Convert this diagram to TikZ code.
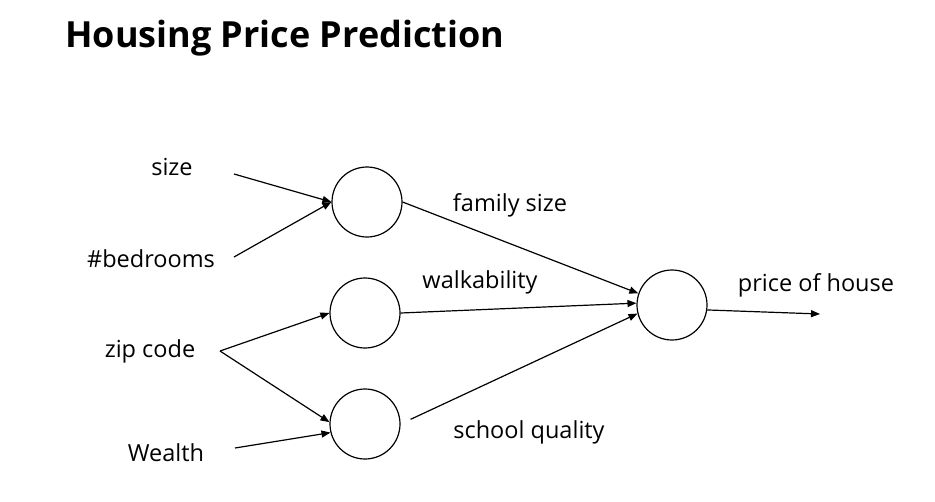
\documentclass[tikz,border=0pt]{standalone}
\usepackage{fontspec}
\setmainfont{Open Sans}
\usepackage{tikz}
\usetikzlibrary{arrows.meta, positioning}
\tikzstyle{unit} = [circle, draw=black, line width=1.2pt, minimum size=70pt, inner sep=0pt]
\tikzstyle{lbl} = [anchor=base, inner sep=0pt, font=\fontsize{23.5}{28}\selectfont]
\tikzstyle{arrow} = [line width=1.2pt, -{Triangle[length=9pt,width=7pt]}]

\begin{document}
\begin{tikzpicture}[x=1pt, y=-1pt]
  \useasboundingbox (0,0) rectangle (935,501);
  \node[anchor=base west, inner sep=0pt, font=\fontsize{36}{42}\selectfont\bfseries] (title) at (65,47) {Housing Price Prediction};

  \node[unit] (fam) at (367,202) {};
  \node[unit] (walk) at (365,313) {};
  \node[unit] (school) at (365,424) {};
  \node[unit] (price) at (672,305) {};

  \node[lbl] (size) at (172,175) {size};
  \node[lbl] (bed) at (151,267) {\#bedrooms};
  \node[lbl] (zip) at (150,357) {zip code};
  \node[lbl] (wealth) at (166,461) {Wealth};
  \node[lbl] (famlbl) at (510,211) {family size};
  \node[lbl] (walklbl) at (480,288) {walkability};
  \node[lbl] (schoollbl) at (529,438) {school quality};
  \node[lbl] (pricelbl) at (816,291) {price of house};

  \coordinate (sizeout) at (234,174);
  \coordinate (bedout) at (234,257);
  \coordinate (zipout) at (220,351);
  \coordinate (wealthout) at (235,448);
  \coordinate (priceout) at (820,314);

  \draw[arrow] (sizeout) -- (fam.west);
  \draw[arrow] (bedout) -- (fam.west);
  \draw[arrow] (zipout) -- (walk.west);
  \draw[arrow] (zipout) -- (school.177);
  \draw[arrow] (wealthout) -- (school.194);
  \draw[arrow] (fam.east) -- (price.161);
  \draw[arrow] (walk.east) -- (price.177);
  \draw[arrow, shorten <=11pt] (school.east) -- (price.194);
  \draw[arrow] (price.-8) -- (priceout);
\end{tikzpicture}
\end{document}
